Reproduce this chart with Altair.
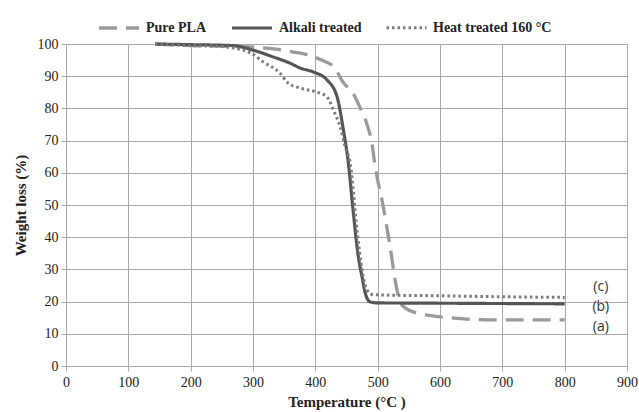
import altair as alt
import pandas as pd

series_names = ["Pure PLA", "Alkali treated", "Heat treated 160 °C"]

pla_t = [143, 200, 260, 300, 340, 365, 390, 410, 430, 445, 461, 470, 483, 490, 496,
         509, 520, 528, 536, 546, 557, 580, 616, 650, 700, 800]
pla_w = [100, 99.5, 99.3, 99.0, 98.3, 97.5, 96.5, 95, 92.8, 88, 84.5, 81, 75, 70, 62,
         49.4, 37, 26.7, 19.8, 17.8, 16.8, 15.8, 15.0, 14.5, 14.3, 14.3]

alk_t = [143, 200, 268, 300, 332, 360, 376, 397, 419, 435, 445, 453, 461, 469, 475,
         480, 488, 500, 600, 700, 800]
alk_w = [100, 99.8, 99.5, 98.1, 96, 94, 92.5, 91.3, 88.8, 83.5, 73.3, 63, 47.5, 33.9, 27.6,
         22.7, 19.9, 19.6, 19.5, 19.4, 19.3]

heat_t = [143, 200, 250, 268, 300, 316, 343, 356, 376, 403, 419, 429, 440, 448, 456,
          467, 475, 483, 490, 500, 600, 700, 800]
heat_w = [100, 99.5, 99.2, 98.8, 96.8, 94.5, 91, 87.9, 86.3, 85, 83.5, 79.5, 74.2, 68, 63,
          42, 29.8, 23.6, 22.3, 22.1, 21.8, 21.5, 21.3]

label_text = ["(c)", "(b)", "(a)"]
label_t = [858, 858, 858]
label_w = [24.5, 18.3, 12.1]

x_ticks = list(range(0, 901, 100))
y_ticks = list(range(0, 101, 10))

rows = []
for name, ts, ws in zip(series_names, [pla_t, alk_t, heat_t], [pla_w, alk_w, heat_w]):
    for t, w in zip(ts, ws):
        rows.append({"series": name, "T": t, "W": w})
df = pd.DataFrame(rows)
lab = pd.DataFrame({"txt": label_text, "T": label_t, "W": label_w})

x_scale = alt.Scale(domain=[0, 900], nice=False)
y_scale = alt.Scale(domain=[0, 100], nice=False)

x_axis = alt.Axis(title="Temperature (°C )", values=x_ticks, labelFont="Liberation Serif",
                  labelFontSize=14, labelFlush=False, labelOverlap=False)
y_axis = alt.Axis(title="Weight loss (%)", values=y_ticks, labelFont="Liberation Serif",
                  labelFontSize=14, labelOverlap=False)

legend = alt.Legend(title=None, orient="none", legendX=31, legendY=-38, direction="horizontal")

lines = alt.Chart(df).mark_line(strokeCap="butt", interpolate="monotone").encode(
    x=alt.X("T:Q", scale=x_scale, axis=x_axis),
    y=alt.Y("W:Q", scale=y_scale, axis=y_axis),
    color=alt.Color("series:N",
                    scale=alt.Scale(domain=series_names, range=["#9a9a9a", "#555555", "#7a7a7a"]),
                    legend=legend),
    strokeDash=alt.StrokeDash("series:N",
                              scale=alt.Scale(domain=series_names,
                                              range=[[18, 9], [1, 0], [2.5, 3]]),
                              legend=legend),
    strokeWidth=alt.StrokeWidth("series:N",
                                scale=alt.Scale(domain=series_names, range=[3.3, 3, 2.6]),
                                legend=None),
)

labels = alt.Chart(lab).mark_text(font="Open Sans", fontSize=14, color="#333333",
                                  align="center", baseline="middle").encode(
    x=alt.X("T:Q", scale=x_scale, axis=x_axis),
    y=alt.Y("W:Q", scale=y_scale, axis=y_axis),
    text="txt:N",
)

chart = alt.layer(lines, labels).properties(
    width=561, height=322,
    autosize=alt.AutoSizeParams(type="none"),
    padding={"left": 66, "top": 44, "right": 12, "bottom": 46},
    background="white",
).configure_view(strokeWidth=0).configure_axis(
    gridColor="#a8a8a8", gridWidth=1, domainColor="#a8a8a8", tickColor="#a8a8a8",
    tickSize=5, labelFont="Liberation Serif", labelFontSize=14, labelColor="#222222",
    titleFont="Liberation Serif", titleFontSize=15, titleFontWeight="bold", titleColor="#222222",
).configure_axisX(labelPadding=4, titlePadding=5).configure_axisY(
    labelPadding=3, titlePadding=9
).configure_legend(
    labelFont="Liberation Serif", labelFontSize=14, labelFontWeight="bold", labelColor="#222222",
    symbolType="stroke", symbolSize=1600, symbolStrokeWidth=3, labelOffset=5, columnPadding=18,
)

chart.save("out.html", embed_options={"renderer": "svg", "actions": False})
